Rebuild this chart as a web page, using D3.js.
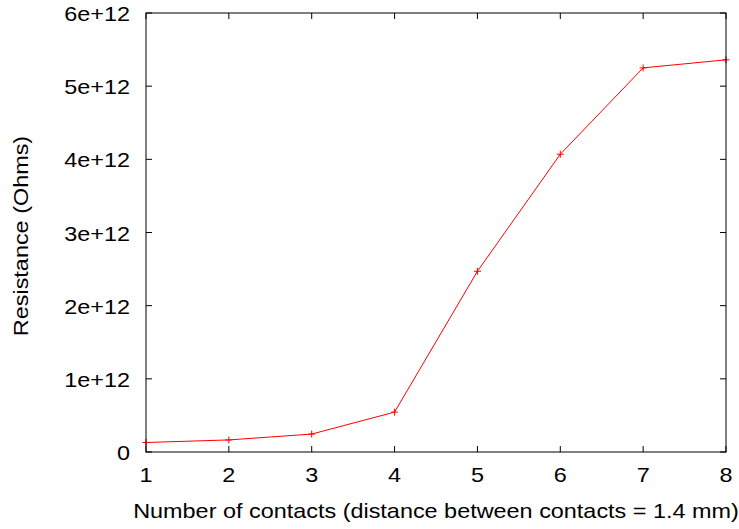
<!DOCTYPE html>
<html>
<head>
<meta charset="utf-8">
<script src="https://cdn.jsdelivr.net/npm/d3@7"></script>
<style>
  body { margin: 0; background: #fff; }
  svg { display: block; font-family: "Liberation Sans", Arial, sans-serif; }
</style>
</head>
<body>
<svg id="chart" width="739" height="529"></svg>
<script>
const contacts = [1, 2, 3, 4, 5, 6, 7, 8];
const resistance = [0.13e12, 0.165e12, 0.245e12, 0.545e12, 2.47e12, 4.07e12, 5.25e12, 5.36e12];
const yTicks = [0, 1e12, 2e12, 3e12, 4e12, 5e12, 6e12];
const yTickLabels = ["0", "1e+12", "2e+12", "3e+12", "4e+12", "5e+12", "6e+12"];

const width = 739, height = 529;
const margin = { top: 13, right: 13, bottom: 77, left: 146 };
const svg = d3.select("#chart");

const x = d3.scaleLinear().domain([1, 8]).range([margin.left, width - margin.right]);
const y = d3.scaleLinear().domain([0, 6e12]).range([height - margin.bottom, margin.top]);

const fontSize = 21;
const stretch = 1.115; // the original font runs a bit wider than Arial
const tick = 6;

// mirrored inner ticks
const axes = svg.append("g").attr("stroke", "#000").attr("stroke-width", 1);
contacts.forEach(c => {
  axes.append("line").attr("x1", x(c)).attr("x2", x(c)).attr("y1", y(0)).attr("y2", y(0) - tick);
  axes.append("line").attr("x1", x(c)).attr("x2", x(c)).attr("y1", y(6e12)).attr("y2", y(6e12) + tick);
});
yTicks.forEach(v => {
  axes.append("line").attr("x1", x(1)).attr("x2", x(1) + tick).attr("y1", y(v)).attr("y2", y(v));
  axes.append("line").attr("x1", x(8)).attr("x2", x(8) - tick).attr("y1", y(v)).attr("y2", y(v));
});

// text placed at (px,py), stretched horizontally in its own frame
function label(g, px, py, anchor, txt, rot) {
  return g.append("text")
    .attr("transform", `translate(${px},${py})${rot ? ` rotate(${rot})` : ""} scale(${stretch},1)`)
    .attr("text-anchor", anchor).attr("font-size", fontSize)
    .text(txt);
}

const labels = svg.append("g").attr("fill", "#000");
contacts.forEach(c => label(labels, x(c), y(0) + 30, "middle", c));
yTicks.forEach((v, i) => label(labels, x(1) - 16, y(v) + 8, "end", yTickLabels[i]));

// axis titles
label(labels, (x(1) + x(8)) / 2, 518, "middle", "Number of contacts (distance between contacts = 1.4 mm)");
label(labels, 28, 236, "middle", "Resistance (Ohms)", -90);

// data line
const data = contacts.map((c, i) => [c, resistance[i]]);
svg.append("path")
  .datum(data)
  .attr("fill", "none").attr("stroke", "#ff0000").attr("stroke-width", 1)
  .attr("d", d3.line().x(d => x(d[0])).y(d => y(d[1])));

// plus markers
const m = 3.5;
svg.append("g").attr("stroke", "#ff0000").attr("stroke-width", 1)
  .selectAll("path").data(data).join("path")
  .attr("d", d => `M${x(d[0]) - m},${y(d[1])}H${x(d[0]) + m}M${x(d[0])},${y(d[1]) - m}V${y(d[1]) + m}`);

// border
svg.append("rect")
  .attr("x", x(1)).attr("y", y(6e12))
  .attr("width", x(8) - x(1)).attr("height", y(0) - y(6e12))
  .attr("fill", "none").attr("stroke", "#000").attr("stroke-width", 1);
</script>
</body>
</html>
